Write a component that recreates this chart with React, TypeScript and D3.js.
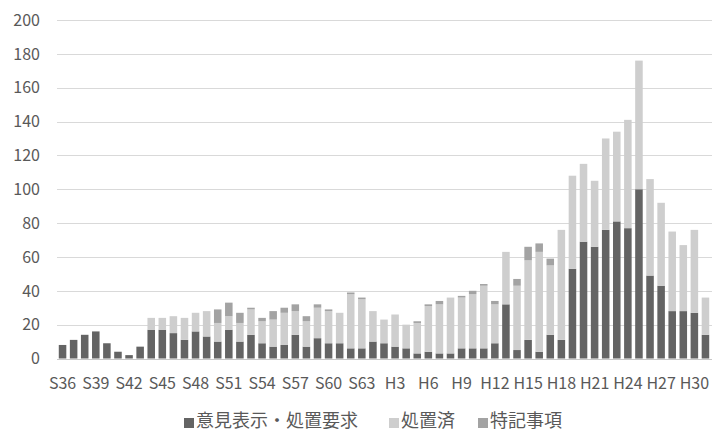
import React from "react";
import * as d3 from "d3";

// Fiscal years, Showa 36 through Heisei 31
const years: string[] = [
  "S36", "S37", "S38", "S39", "S40", "S41", "S42", "S43", "S44", "S45",
  "S46", "S47", "S48", "S49", "S50", "S51", "S52", "S53", "S54", "S55",
  "S56", "S57", "S58", "S59", "S60", "S61", "S62", "S63",
  "H1", "H2", "H3", "H4", "H5", "H6", "H7", "H8", "H9", "H10",
  "H11", "H12", "H13", "H14", "H15", "H16", "H17", "H18", "H19", "H20",
  "H21", "H22", "H23", "H24", "H25", "H26", "H27", "H28", "H29", "H30", "H31",
];

// 意見表示・処置要求
const opinion: number[] = [
  8, 11, 14, 16, 9, 4, 2, 7, 17, 17,
  15, 11, 16, 13, 10, 17, 10, 14, 9, 7,
  8, 14, 7, 12, 9, 9, 6, 6,
  10, 9, 7, 6, 3, 4, 3, 3, 6, 6,
  6, 9, 32, 5, 11, 4, 14, 11, 53, 69,
  66, 76, 81, 77, 100, 49, 43, 28, 28, 27, 14,
];

// 処置済
const resolved: number[] = [
  0, 0, 0, 0, 0, 0, 0, 0, 7, 7,
  10, 13, 11, 15, 11, 8, 11, 15, 13, 16,
  19, 14, 15, 18, 19, 18, 32, 29,
  18, 14, 19, 14, 18, 27, 29, 33, 30, 32,
  37, 23, 31, 38, 47, 59, 41, 65, 55, 46,
  39, 54, 53, 64, 76, 57, 49, 47, 39, 49, 22,
];

// 特記事項
const special: number[] = [
  0, 0, 0, 0, 0, 0, 0, 0, 0, 0,
  0, 0, 0, 0, 8, 8, 6, 1, 2, 5,
  3, 4, 3, 2, 1, 0, 1, 1,
  0, 0, 0, 0, 1, 1, 2, 0, 1, 2,
  1, 2, 0, 4, 8, 5, 4, 0, 0, 0,
  0, 0, 0, 0, 0, 0, 0, 0, 0, 0, 0,
];

const seriesNames: string[] = ["意見表示・処置要求", "処置済", "特記事項"];
const seriesColors: string[] = ["#646464", "#cecece", "#a3a3a3"];
const yTicks: number[] = [0, 20, 40, 60, 80, 100, 120, 140, 160, 180, 200];

const W = 712;
const H = 432;
const FONT = "'Noto Sans CJK JP', 'Noto Sans', sans-serif";

export default function App() {
  const rows = years.map((y, i) => ({
    year: y,
    s0: opinion[i],
    s1: resolved[i],
    s2: special[i],
  }));
  const stacked = d3.stack<any>().keys(["s0", "s1", "s2"])(rows);

  const x = d3
    .scaleBand<string>()
    .domain(years)
    .range([57, 711])
    .paddingInner(0.32)
    .paddingOuter(0.16);
  const y = d3.scaleLinear().domain([0, 200]).range([358.5, 20]);

  const labelYears = years.filter((_, i) => i % 3 === 0 && i < years.length - 1);

  // legend items: square then label
  const legendX = [184, 389, 478];

  return (
    <svg
      width={W}
      height={H}
      style={{ position: "absolute", left: 0, top: 0, background: "#fff" }}
      fontFamily={FONT}
    >
      {/* gridlines */}
      {yTicks.map((t) => (
        <line
          key={"g" + t}
          x1={57}
          x2={712}
          y1={Math.round(y(t)) + 0.5}
          y2={Math.round(y(t)) + 0.5}
          stroke={t === 0 ? "#c8c8c8" : "#d9d9d9"}
          strokeWidth={1}
        />
      ))}
      {/* y tick labels */}
      {yTicks.map((t) => (
        <text
          key={"yt" + t}
          x={40}
          y={y(t)}
          dy="0.36em"
          textAnchor="end"
          fontSize={16}
          fill="#595959"
        >
          {t}
        </text>
      ))}
      {/* stacked bars */}
      {stacked.map((layer, si) => (
        <g key={"s" + si} fill={seriesColors[si]}>
          {layer.map((d, i) =>
            d[1] - d[0] > 0 ? (
              <rect
                key={i}
                x={x(years[i])}
                y={y(d[1])}
                width={x.bandwidth()}
                height={y(d[0]) - y(d[1])}
              />
            ) : null
          )}
        </g>
      ))}
      {/* x labels */}
      {labelYears.map((yr) => (
        <text
          key={"xl" + yr}
          x={(x(yr) as number) + x.bandwidth() / 2}
          y={383.5}
          dy="0.36em"
          textAnchor="middle"
          fontSize={16}
          fill="#595959"
        >
          {yr}
        </text>
      ))}
      {/* legend */}
      {seriesNames.map((name, i) => (
        <g key={"lg" + i}>
          <rect x={legendX[i]} y={418} width={10} height={10} fill={seriesColors[i]} />
          <text x={legendX[i] + 12} y={427} fontSize={18} fill="#595959">
            {name}
          </text>
        </g>
      ))}
    </svg>
  );
}
